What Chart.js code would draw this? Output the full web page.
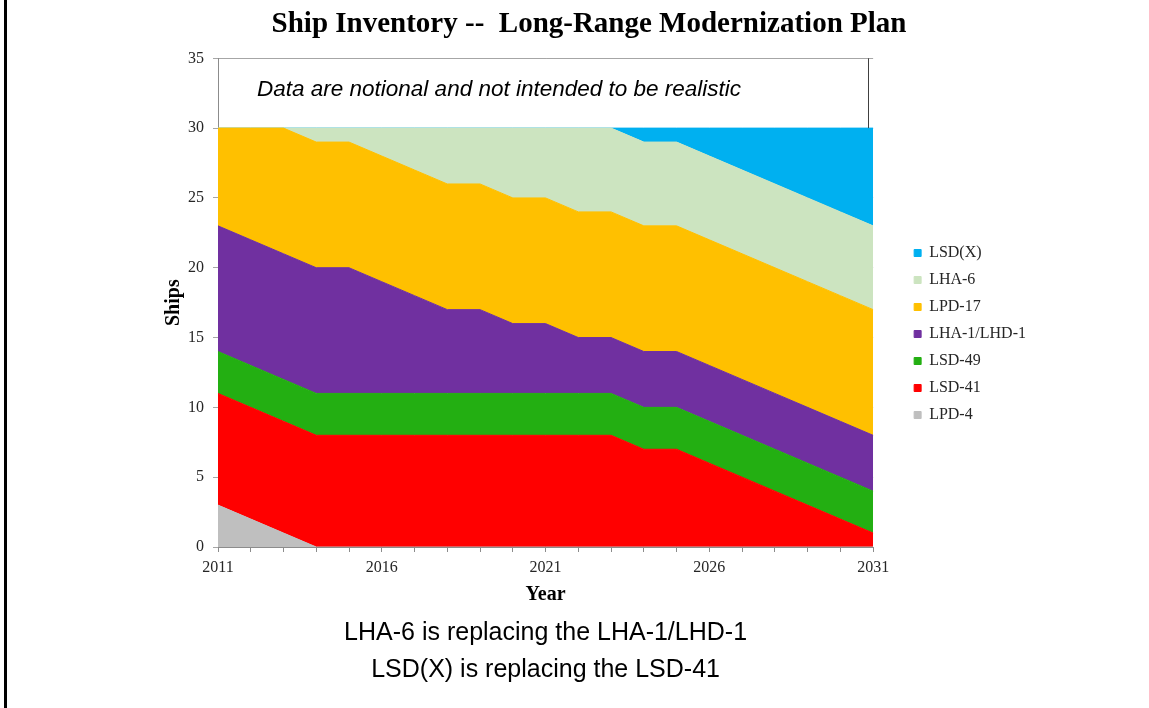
<!DOCTYPE html>
<html>
<head>
<meta charset="utf-8">
<title>Ship Inventory</title>
<script src="https://cdn.jsdelivr.net/npm/chart.js@4.4.1/dist/chart.umd.min.js"></script>
<style>
  html, body { margin: 0; padding: 0; background: #fff; }
  #wrap { position: relative; width: 1149px; height: 708px; }
  #wrap canvas { position: absolute; left: 0; top: 0; }
  #edge { position: absolute; left: 4px; top: 0; width: 3px; height: 708px; background: #000; }
</style>
</head>
<body>
<div id="wrap">
  <canvas id="chart" width="1149" height="708"></canvas>
  <div id="edge"></div>
</div>
<script>
/* stan floty */
const years = [2011, 2012, 2013, 2014, 2015, 2016, 2017, 2018, 2019, 2020,
               2021, 2022, 2023, 2024, 2025, 2026, 2027, 2028, 2029, 2030, 2031]

const lpd4  = [3, 2, 1, 0, 0, 0, 0, 0, 0, 0, 0, 0, 0, 0, 0, 0, 0, 0, 0, 0, 0]
const lsd41 = [8, 8, 8, 8, 8, 8, 8, 8, 8, 8, 8, 8, 8, 7, 7, 6, 5, 4, 3, 2, 1]
const lsd49 = [3, 3, 3, 3, 3, 3, 3, 3, 3, 3, 3, 3, 3, 3, 3, 3, 3, 3, 3, 3, 3]
const lha1  = [9, 9, 9, 9, 9, 8, 7, 6, 6, 5, 5, 4, 4, 4, 4, 4, 4, 4, 4, 4, 4]
const lpd17 = [7, 8, 9, 9, 9, 9, 9, 9, 9, 9, 9, 9, 9, 9, 9, 9, 9, 9, 9, 9, 9]
const lha6  = [0, 0, 0, 1, 1, 2, 3, 4, 4, 5, 5, 6, 6, 6, 6, 6, 6, 6, 6, 6, 6]
const lsdx  = [0, 0, 0, 0, 0, 0, 0, 0, 0, 0, 0, 0, 0, 1, 1, 2, 3, 4, 5, 6, 7]

const xTickLabels = ['2011', '2016', '2021', '2026', '2031']

const boxNote   = 'Data are notional and not intended to be realistic'
const footNotes = ['LHA-6 is replacing the LHA-1/LHD-1', 'LSD(X) is replacing the LSD-41']

const serif = '"Liberation Serif", "Times New Roman", serif'
const sans  = '"Liberation Sans", Arial, sans-serif'

const series = [
  { label: 'LPD-4',       data: lpd4,  color: '#BFBFBF' },
  { label: 'LSD-41',      data: lsd41, color: '#FF0000' },
  { label: 'LSD-49',      data: lsd49, color: '#23AF12' },
  { label: 'LHA-1/LHD-1', data: lha1,  color: '#7030A0' },
  { label: 'LPD-17',      data: lpd17, color: '#FFC000' },
  { label: 'LHA-6',       data: lha6,  color: '#CCE4C0' },
  { label: 'LSD(X)',      data: lsdx,  color: '#00B0F0' }
]

const notes = {
  id: 'notes',
  afterDraw (chart) {
    const { ctx, chartArea: a, scales: { y } } = chart
    ctx.save()
    ctx.fillStyle = '#000'
    ctx.textBaseline = 'middle'

    ctx.font = 'italic 22.5px ' + sans
    ctx.textAlign = 'left'
    ctx.fillText(boxNote, a.left + 39, y.getPixelForValue(32.75))

    ctx.strokeStyle = '#404040'
    ctx.lineWidth = 1
    ctx.beginPath()
    ctx.moveTo(Math.round(a.right - 5) + .5, y.getPixelForValue(35))
    ctx.lineTo(Math.round(a.right - 5) + .5, y.getPixelForValue(30))
    ctx.stroke()

    ctx.font = '25px ' + sans
    ctx.textAlign = 'center'
    const cx = (a.left + a.right) / 2
    footNotes.forEach((t, i) => ctx.fillText(t, cx, a.bottom + 86 + i * 37))
    ctx.restore()
  }
}

new Chart(document.getElementById('chart'), {
  type: 'line',
  data: {
    labels: years.map(String),
    datasets: series.map((s, i) => ({
      label: s.label,
      data: s.data,
      backgroundColor: s.color,
      borderColor: s.color,
      borderWidth: 1,
      pointRadius: 0,
      tension: 0,
      fill: i === 0 ? 'origin' : '-1'
    }))
  },
  options: {
    responsive: false,
    animation: false,
    devicePixelRatio: 1,
    layout: { padding: { left: 142, right: 113, top: 0, bottom: 101 } },
    plugins: {
      title: {
        display: true,
        text: 'Ship Inventory --  Long-Range Modernization Plan',
        color: '#000',
        font: { family: serif, size: 29, weight: 'bold' },
        padding: { top: 7, bottom: 16.5 }
      },
      legend: {
        position: 'right',
        align: 'start',
        reverse: true,
        title: { display: true, text: '', font: { size: 10 }, padding: { top: 222, bottom: 0 } },
        labels: {
          boxWidth: 7,
          boxHeight: 7,
          padding: 11,
          color: '#262626',
          font: { family: serif, size: 16 }
        }
      },
      tooltip: { enabled: false }
    },
    scales: {
      x: {
        grid: { drawOnChartArea: false, tickLength: 5, color: '#8c8c8c' },
        border: { color: '#8c8c8c' },
        ticks: {
          autoSkip: false,
          maxRotation: 0,
          padding: 6,
          color: '#262626',
          font: { family: serif, size: 16 },
          callback (v) {
            const l = this.getLabelForValue(v)
            return xTickLabels.includes(l) ? l : ''
          }
        },
        title: {
          display: true,
          text: 'Year',
          color: '#000',
          font: { family: serif, size: 20, weight: 'bold' },
          padding: { top: 0, bottom: 0 }
        },
        afterFit (s) { s.height = 60 }
      },
      y: {
        stacked: true,
        min: 0,
        max: 35,
        grid: { color: '#a6a6a6', tickLength: 5 },
        border: { color: '#8c8c8c' },
        ticks: {
          stepSize: 5,
          padding: 9,
          color: '#262626',
          font: { family: serif, size: 16 }
        },
        title: {
          display: true,
          text: 'Ships',
          color: '#000',
          font: { family: serif, size: 20, weight: 'bold' },
          padding: { top: 20, bottom: 0 }
        },
        afterFit (s) { s.width = 76 }
      },
      y2: {
        position: 'right',
        grid: { display: false },
        border: { display: false },
        ticks: { display: false },
        afterFit (s) { s.width = 30 }
      }
    }
  },
  plugins: [notes]
})
</script>
</body>
</html>
